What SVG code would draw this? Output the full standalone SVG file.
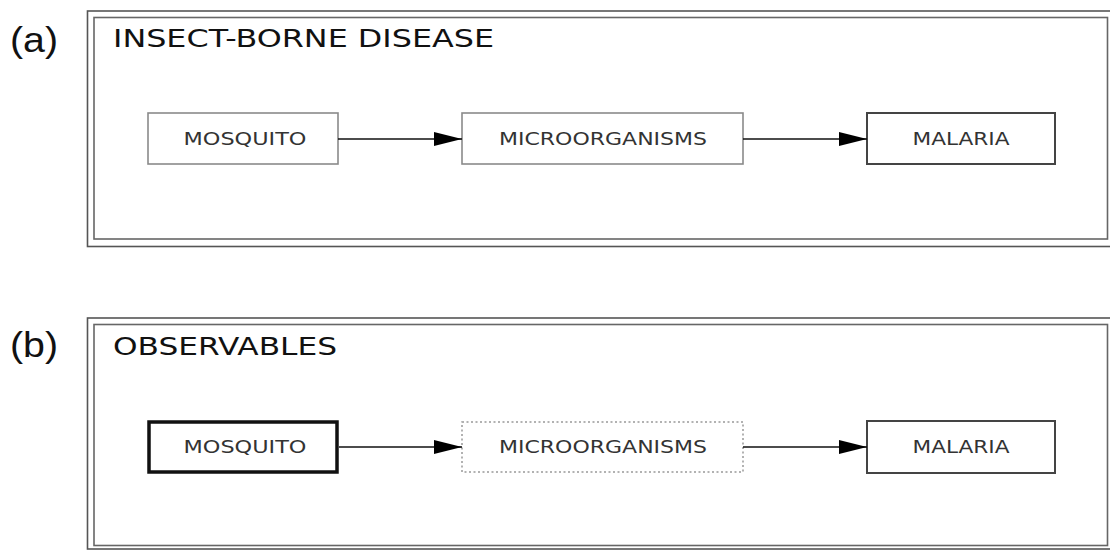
<svg xmlns="http://www.w3.org/2000/svg" width="1110" height="550" viewBox="0 0 1110 550">
  <style>
    .frame-out { fill: none; stroke: #555; stroke-width: 1.6; }
    .frame-in { fill: none; stroke: #666; stroke-width: 1.6; }
    .panel-label { font-family: "Liberation Sans", Arial, sans-serif; font-size: 35px; fill: #111; }
    .title { font-family: "DejaVu Sans", Verdana, sans-serif; font-size: 24px; fill: #111; }
    .node rect { fill: #fff; }
    .lbl { font-family: "DejaVu Sans", Verdana, sans-serif; font-size: 17px; fill: #333; text-anchor: middle; }
    .plain { stroke: #8a8a8a; stroke-width: 1.6; }
    .dark { stroke: #444; stroke-width: 2; }
    .thick { stroke: #111; stroke-width: 3.5; }
    .dotted { stroke: #999; stroke-width: 1.5; stroke-dasharray: 2 2.5; }
    .edge { stroke: #111; stroke-width: 1.4; fill: none; marker-end: url(#arrow); }
  </style>
  <defs>
    <marker id="arrow" markerWidth="28" markerHeight="14" refX="28" refY="7" orient="auto" markerUnits="userSpaceOnUse">
      <path d="M0,0 L28,7 L0,14 Z" fill="#000"/>
    </marker>
  </defs>
  <rect width="1110" height="550" fill="#fff"/>

  <!-- Panel (a) -->
  <g id="panel-a">
    <text class="panel-label" x="10" y="52" textLength="48" lengthAdjust="spacingAndGlyphs">(a)</text>
    <rect class="frame-out" x="87.5" y="11" width="1023.5" height="235.5"/>
    <rect class="frame-in" x="94" y="17.5" width="1013.5" height="221.5"/>
    <text class="title" x="113" y="47" textLength="381" lengthAdjust="spacingAndGlyphs">INSECT-BORNE DISEASE</text>
  </g>
  <g id="a-mosquito" class="node">
    <rect class="plain" x="148" y="113" width="190" height="51"/>
    <text class="lbl" x="245" y="145" textLength="123" lengthAdjust="spacingAndGlyphs">MOSQUITO</text>
  </g>
  <g id="a-microorganisms" class="node">
    <rect class="plain" x="462" y="113" width="281" height="51"/>
    <text class="lbl" x="603" y="145" textLength="208" lengthAdjust="spacingAndGlyphs">MICROORGANISMS</text>
  </g>
  <g id="a-malaria" class="node">
    <rect class="dark" x="867" y="113" width="188" height="51"/>
    <text class="lbl" x="961" y="145" textLength="97" lengthAdjust="spacingAndGlyphs">MALARIA</text>
  </g>

  <!-- Panel (b) -->
  <g id="panel-b">
    <text class="panel-label" x="10" y="357" textLength="48" lengthAdjust="spacingAndGlyphs">(b)</text>
    <rect class="frame-out" x="87.5" y="318" width="1023.5" height="231"/>
    <rect class="frame-in" x="94" y="324.5" width="1013.5" height="221"/>
    <text class="title" x="113" y="355" textLength="224" lengthAdjust="spacingAndGlyphs">OBSERVABLES</text>
  </g>
  <g id="b-mosquito" class="node">
    <rect class="thick" x="149" y="422" width="188" height="50"/>
    <text class="lbl" x="245" y="453" textLength="123" lengthAdjust="spacingAndGlyphs">MOSQUITO</text>
  </g>
  <g id="b-microorganisms" class="node">
    <rect class="dotted" x="462" y="422" width="281" height="50"/>
    <text class="lbl" x="603" y="453" textLength="208" lengthAdjust="spacingAndGlyphs">MICROORGANISMS</text>
  </g>
  <g id="b-malaria" class="node">
    <rect class="dark" x="867" y="421" width="188" height="52"/>
    <text class="lbl" x="961" y="453" textLength="97" lengthAdjust="spacingAndGlyphs">MALARIA</text>
  </g>

  <!-- Connectors -->
  <g id="connectors">
    <line class="edge" x1="338" y1="139" x2="462" y2="139"/>
    <line class="edge" x1="743" y1="139" x2="867" y2="139"/>
    <line class="edge" x1="339" y1="447" x2="462" y2="447"/>
    <line class="edge" x1="743" y1="447" x2="867" y2="447"/>
  </g>
</svg>
